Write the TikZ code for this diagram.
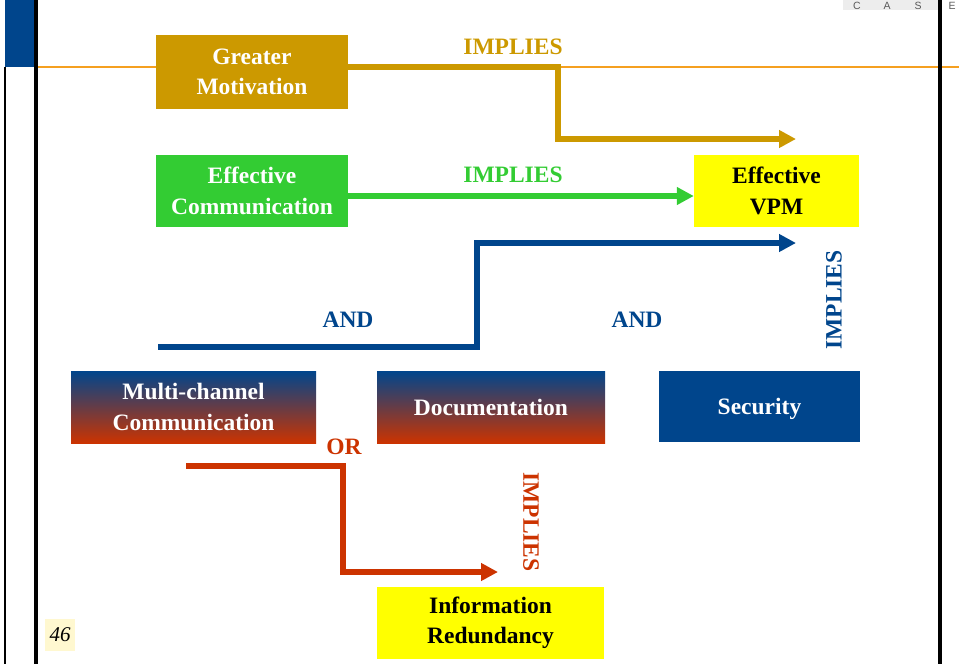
\documentclass[tikz,border=0pt]{standalone}
\usepackage{fontspec}
\setmainfont{Liberation Serif}
\newfontfamily\casefont{Liberation Sans}
\usetikzlibrary{arrows.meta,calc}

\definecolor{goldc}{HTML}{CC9900}
\definecolor{greenc}{HTML}{33CC33}
\definecolor{bluec}{HTML}{00458C}
\definecolor{redc}{HTML}{CC3300}
\definecolor{yellowc}{HTML}{FFFF00}
\definecolor{orangec}{HTML}{F5A020}
\definecolor{pagenum}{HTML}{FFF8D0}

\begin{document}
\begin{tikzpicture}[x=1pt,y=-1pt,
  box/.style={inner sep=0pt, align=center, text=white,
    font=\fontsize{23.5}{30.5}\selectfont\bfseries},
  oneline/.style={text height=16pt, text depth=0pt},
  grad/.style={box, top color=bluec, bottom color=redc},
  lbl/.style={inner sep=0pt, font=\fontsize{23.5}{28}\selectfont\bfseries},
  conn/.style={line width=5.5pt, -{Triangle[length=17pt,width=17pt]}},
  caseletter/.style={inner sep=0pt, text=black!65, font=\casefont\fontsize{10.5}{11}\selectfont}]
\useasboundingbox (0,0) rectangle (959,664);

% slide frame
\fill[bluec] (5,0) rectangle (34,67);
\draw[orangec, line width=2pt] (34,67) -- (959,67);
\draw[black, line width=1.5pt] (5,67) -- (5,664);
\draw[black, line width=4pt] (36,0) -- (36,664);
\draw[black, line width=4pt] (940,0) -- (940,664);
\fill[black!7] (843,0) rectangle (938,10);
\node[caseletter] (c1) at (857,5.5) {C};
\node[caseletter] (c2) at (887,5.5) {A};
\node[caseletter] (c3) at (918,5.5) {S};
\node[caseletter] (c4) at (952,5.5) {E};

% page number
\node[fill=pagenum, inner sep=0pt, minimum width=30, minimum height=32,
  font=\fontsize{21}{22}\selectfont\itshape] (pg) at (60,635) {46};

% boxes
\node[box, fill=goldc, minimum width=192, minimum height=74] (gm) at (252,72) {\raisebox{-1.5pt}{Greater}\\\raisebox{-1.5pt}{Motivation}};
\node[box, fill=greenc, minimum width=192, minimum height=72] (ec) at (252,191) {Effective\\Communication};
\node[box, fill=yellowc, text=black, minimum width=165, minimum height=72] (vpm) at (776.5,191) {Effective\\VPM};
\node[grad, minimum width=245, minimum height=72] (mc) at (193.5,407) {\raisebox{-1.5pt}{Multi-channel}\\\raisebox{-1.5pt}{Communication}};
\node[grad, oneline, minimum width=228, minimum height=72] (doc) at (491,407) {Documentation};
\node[box, oneline, fill=bluec, minimum width=201, minimum height=71] (sec) at (759.5,406.5) {Security};
\node[box, fill=yellowc, text=black, minimum width=227, minimum height=72] (ir) at (490.5,623) {\raisebox{-1.5pt}{Information}\\\raisebox{-1.5pt}{Redundancy}};

% connector ends
\coordinate (gmend) at (796,139);
\coordinate (andstart) at (158,347);
\coordinate (andend) at (796,243);
\coordinate (orstart) at (186,466);
\coordinate (orend) at (498,572);

% connectors
\draw[conn, goldc] ([yshift=5pt]gm.east) -- (558,67) -- (558,139) -- (gmend);
\draw[conn, greenc] ([yshift=-5pt]ec.east) -- ([yshift=-5pt]vpm.west);
\draw[conn, bluec] (andstart) -- (477,347) -- (477,243) -- (andend);
\draw[conn, redc] (orstart) -- (343,466) -- (343,572) -- (orend);

% labels
\node[lbl, text=goldc] (l1) at (513,47) {IMPLIES};
\node[lbl, text=greenc] (l2) at (513,175) {IMPLIES};
\node[lbl, text=bluec] (l3) at (348,320) {AND};
\node[lbl, text=bluec] (l4) at (637,320) {AND};
\node[lbl, text=bluec, rotate=90] (l5) at (834,300) {IMPLIES};
\node[lbl, text=redc] (l6) at (344,447) {OR};
\node[lbl, text=redc, rotate=-90] (l7) at (531,522) {IMPLIES};
\end{tikzpicture}
\end{document}
